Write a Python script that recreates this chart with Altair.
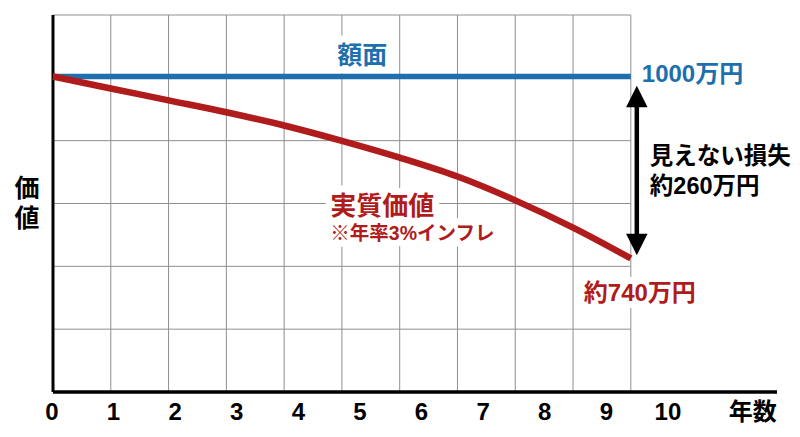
import altair as alt
import pandas as pd

# ---- data ----
years = [0, 1, 2, 3, 4, 5, 6, 7, 8, 9, 10]
face_value = [1000, 1000, 1000, 1000, 1000, 1000, 1000, 1000, 1000, 1000, 1000]
real_value = [1000, 983, 966, 949, 930, 908, 884, 857, 823, 784, 740]
x_tick_values = [0, 1, 2, 3, 4, 5, 6, 7, 8, 9, 10]
grid_rows = [0, 1, 2, 3, 4, 5, 6]
x_title = "年数"
y_title = ["価", "値"]
face_label = "額面"
face_amount = "1000万円"
real_label = "実質価値"
real_note = "※年率3%インフレ"
real_amount = "約740万円"
loss_text = ["見えない損失", "約260万円"]

W, H = 724, 377
X_MAX = 12.53
Y_MIN, Y_MAX = 549, 1088
BLUE = "#1d6fad"
RED = "#b01b1b"
FONT = "Liberation Sans, Noto Sans CJK JP"
NBSP = "\u00a0"

xs = alt.Scale(domain=[0, X_MAX], nice=False, zero=False)
ys = alt.Scale(domain=[Y_MIN, Y_MAX], nice=False, zero=False)

df = pd.DataFrame({"year": years, "face": face_value, "real": real_value})
one = pd.DataFrame({"k": [0]})

vgrid = alt.Chart(pd.DataFrame({"year": x_tick_values})).mark_rule(
    color="#8f8f8f", strokeWidth=1).encode(
    x=alt.X("year:Q", scale=xs, axis=None),
    y=alt.datum(Y_MIN, scale=ys, axis=None), y2=alt.datum(Y_MAX))

hgrid = alt.Chart(pd.DataFrame({"row": grid_rows})).transform_calculate(
    yv=f"{Y_MIN} + datum.row * {(Y_MAX - Y_MIN) / 6}").mark_rule(
    color="#8f8f8f", strokeWidth=1).encode(
    y=alt.Y("yv:Q", scale=ys, axis=None),
    x=alt.datum(0), x2=alt.datum(10))

left_axis = alt.Chart(one).mark_rule(color="black", strokeWidth=3).encode(
    x=alt.datum(0), y=alt.datum(Y_MIN), y2=alt.datum(Y_MAX))
bottom_axis = alt.Chart(one).mark_rule(color="black", strokeWidth=3.5).encode(
    x=alt.datum(0), x2=alt.datum(X_MAX), y=alt.datum(Y_MIN))

blue = alt.Chart(df).mark_line(color=BLUE, strokeWidth=5.5).encode(
    x=alt.X("year:Q"), y=alt.Y("face:Q"))
red = alt.Chart(df).mark_line(color=RED, strokeWidth=6.5, interpolate="monotone").encode(
    x=alt.X("year:Q"), y=alt.Y("real:Q"))

def txt(text, x, y, size, color, align="center", dx=0, dy=0, halo=False, lh=None):
    kw = dict(text=text, font=FONT, fontSize=size, fontWeight="bold",
              align=align, baseline="middle", dx=dx, dy=dy)
    if lh:
        kw["lineHeight"] = lh
    layers = []
    if halo:
        layers.append(alt.Chart(one).mark_text(color="white", stroke="white",
                      strokeWidth=14, strokeJoin="round", **kw).encode(
            x=alt.datum(x), y=alt.datum(y)))
    layers.append(alt.Chart(one).mark_text(color=color, **kw).encode(
        x=alt.datum(x), y=alt.datum(y)))
    return layers

halo_texts = []
top_texts = []
for spec in [
    (face_label, 5.35, 1000, 25, BLUE, "center", 0, -21, True, None),
    (face_amount, 10, 1000, 24, BLUE, "left", 11, -2, False, None),
    (loss_text, 10, 870, 23.5, "black", "left", 19, -10, False, 30),
    (real_label, 4.8, 818, 26, RED, "left", 0, 3, True, None),
    (real_note, 4.8, 778, 19.5, RED, "left", 0, 2, True, None),
    (real_amount, 10, 740, 24, RED, "center", 9, 36, True, None),
    (y_title, 0, (Y_MIN + Y_MAX) / 2, 25, "black", "center", -26, -15, False, 30),
]:
    ls = txt(*spec)
    if len(ls) == 2:
        halo_texts.append(ls[0])
    top_texts.append(ls[-1])

# double arrow for the loss
shaft = alt.Chart(one).mark_rule(color="black", strokeWidth=4.5,
                                 yOffset=26, y2Offset=-20, xOffset=6).encode(
    x=alt.datum(10), y=alt.datum(1000), y2=alt.datum(740))
TRI_UP = "M-1,1L1,1L0,-1Z"
TRI_DN = "M-1,-1L1,-1L0,1Z"
head_up = alt.Chart(one).mark_point(shape=TRI_UP, size=460, filled=True,
                                    color="black", opacity=1,
                                    xOffset=6, yOffset=20).encode(
    x=alt.datum(10), y=alt.datum(1000))
head_dn = alt.Chart(one).mark_point(shape=TRI_DN, size=460, filled=True,
                                    color="black", opacity=1,
                                    xOffset=6, yOffset=-14).encode(
    x=alt.datum(10), y=alt.datum(740))

main = alt.layer(vgrid, hgrid, *halo_texts, left_axis, bottom_axis, blue, red,
                 shaft, head_up, head_dn, *top_texts)

# tick labels are spaced a little wider than the grid in the reference
LAB_STEP = 61.6
lab_scale = alt.Scale(domain=[0, 11.5], range=[-1.6, -1.6 + 11.5 * LAB_STEP],
                      nice=False, zero=False)
labels = alt.Chart(pd.DataFrame({"v": x_tick_values})).mark_point(opacity=0).encode(
    x=alt.X("v:Q", scale=lab_scale, axis=alt.Axis(
        orient="bottom",
        values=x_tick_values + [11.376],
        labelExpr="datum.value > 11 ? '" + x_title + "' : (datum.value == 0 ? '0"
                  + NBSP * 3 + "' : datum.label)",
        format="d", title=None, domain=False, ticks=False, grid=False,
        labelFont=FONT, labelFontSize=24, labelFontWeight="bold", labelColor="black",
        labelPadding=8, labelFlush=False, labelOverlap=False, labelBound=False)))

chart = alt.layer(main, labels).resolve_scale(x="independent").properties(
    width=W, height=H, autosize="none",
    padding={"left": 45, "top": 7, "right": 15, "bottom": 37},
    background="white").configure_view(stroke=None)

chart.save("out.html", embed_options={"renderer": "svg", "actions": False})
